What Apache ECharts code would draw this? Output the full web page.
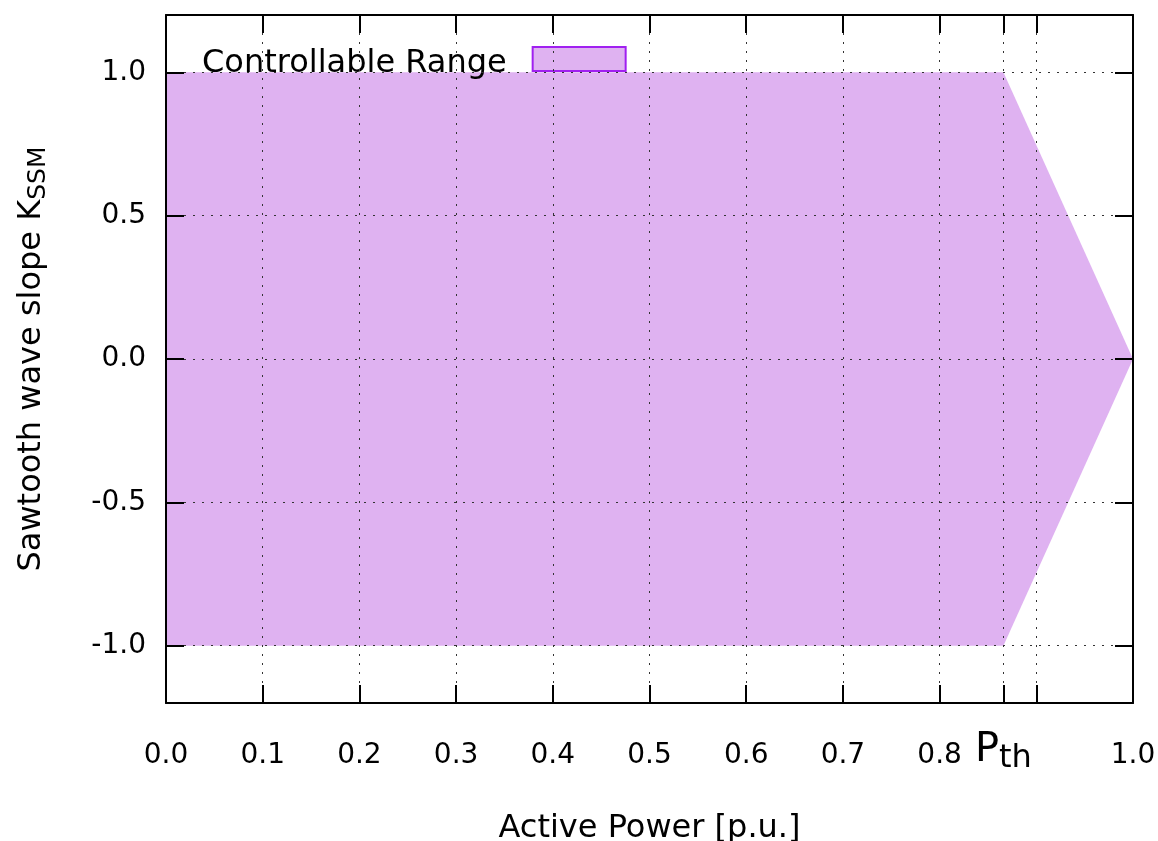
<!DOCTYPE html>
<html>
<head>
<meta charset="utf-8">
<script src="https://cdn.jsdelivr.net/npm/echarts@6/dist/echarts.min.js"></script>
<style>
  html, body { margin: 0; padding: 0; background: #fff; }
  #chart { width: 1158px; height: 841px; }
</style>
</head>
<body>
<div id="chart"></div>
<script>
// boundary of the controllable range
const P_TH = 0.866
const upperEdge = [[0, 1], [P_TH, 1], [1, 0]]
const lowerEdge = [[0, -1], [P_TH, -1], [1, 0]]

const xTicks = [0, 0.1, 0.2, 0.3, 0.4, 0.5, 0.6, 0.7, 0.8, P_TH, 0.9, 1.0]
const xLabels = [0, 0.1, 0.2, 0.3, 0.4, 0.5, 0.6, 0.7, 0.8, 1.0]
const yTicks = [-1, -0.5, 0, 0.5, 1]

const fillColor = '#dfb2f1'
const edgeColor = '#a020f0'
const font = 'DejaVu Sans'

const gridLine = { show: true, lineStyle: { color: '#333', width: 1, type: [2, 7] } }
const axisLine = { show: true, onZero: false, lineStyle: { color: '#000', width: 2 } }
const tick = (values) => ({ show: true, inside: true, length: 18, customValues: values, lineStyle: { color: '#000', width: 2 } })

const chart = echarts.init(document.getElementById('chart'))

chart.setOption({
  backgroundColor: '#fff',
  animation: false,
  textStyle: { fontFamily: font },
  grid: { left: 166, right: 25, top: 15, bottom: 138, outerBoundsMode: 'none', containLabel: false },
  legend: {
    left: 197,
    top: 41,
    align: 'right',
    itemWidth: 93,
    itemHeight: 24,
    data: [{
      name: 'Controllable Range',
      icon: 'rect',
      itemStyle: { color: fillColor, borderColor: edgeColor, borderWidth: 2 }
    }],
    formatter: (name) => '{t|' + name + '}',
    textStyle: {
      fontSize: 32,
      color: '#000',
      fontFamily: font,
      rich: {
        t: { fontSize: 32, color: '#000', fontFamily: font, padding: [10, 21, 0, 0] }
      }
    }
  },
  xAxis: [
    {
      type: 'value',
      min: 0,
      max: 1,
      zlevel: 1,
      axisLine,
      axisTick: tick(xTicks),
      splitLine: gridLine,
      name: 'Active Power [p.u.]',
      nameLocation: 'middle',
      nameGap: 110,
      nameTextStyle: { fontSize: 32, color: '#000', fontFamily: font },
      axisLabel: {
        customValues: xLabels,
        margin: 39,
        fontSize: 28,
        color: '#000',
        fontFamily: font,
        formatter: (v) => v.toFixed(1)
      }
    },
    {
      type: 'value',
      position: 'top',
      min: 0,
      max: 1,
      zlevel: 1,
      axisLine,
      axisTick: tick(xTicks),
      axisLabel: { show: false },
      splitLine: { show: false }
    },
    {
      // P_th label sits a bit higher than the numeric labels
      type: 'value',
      position: 'bottom',
      min: 0,
      max: 1,
      zlevel: 1,
      axisLine: { show: false },
      axisTick: { show: false },
      splitLine: { show: false },
      axisLabel: {
        customValues: [P_TH],
        margin: 24,
        formatter: () => '{p|P}{s|th}',
        rich: {
          p: { fontSize: 40, color: '#000', fontFamily: font },
          s: { fontSize: 32, color: '#000', fontFamily: font, padding: [16, 0, 0, 0] }
        }
      }
    }
  ],
  yAxis: [
    {
      type: 'value',
      min: -1.2,
      max: 1.2,
      zlevel: 1,
      axisLine,
      axisTick: tick(yTicks),
      splitLine: gridLine,
      name: '{a|Sawtooth wave slope K}{s|SSM}',
      nameLocation: 'middle',
      nameGap: 115,
      nameRotate: 90,
      nameTextStyle: {
        rich: {
          a: { fontSize: 32, color: '#000', fontFamily: font },
          s: { fontSize: 25, color: '#000', fontFamily: font, padding: [14, 0, 0, 0] }
        }
      },
      axisLabel: {
        customValues: yTicks,
        margin: 20,
        fontSize: 28,
        color: '#000',
        fontFamily: font,
        formatter: (v) => v.toFixed(1)
      }
    },
    {
      type: 'value',
      position: 'right',
      min: -1.2,
      max: 1.2,
      zlevel: 1,
      axisLine,
      axisTick: tick(yTicks),
      axisLabel: { show: false },
      splitLine: { show: false }
    }
  ],
  series: [
    {
      name: 'Controllable Range',
      type: 'line',
      data: upperEdge,
      showSymbol: false,
      lineStyle: { width: 0 },
      itemStyle: { color: fillColor },
      areaStyle: { color: fillColor, opacity: 1, origin: 0 }
    },
    {
      name: 'Controllable Range',
      type: 'line',
      data: lowerEdge,
      showSymbol: false,
      lineStyle: { width: 0 },
      itemStyle: { color: fillColor },
      areaStyle: { color: fillColor, opacity: 1, origin: 0 }
    }
  ]
})
</script>
</body>
</html>
